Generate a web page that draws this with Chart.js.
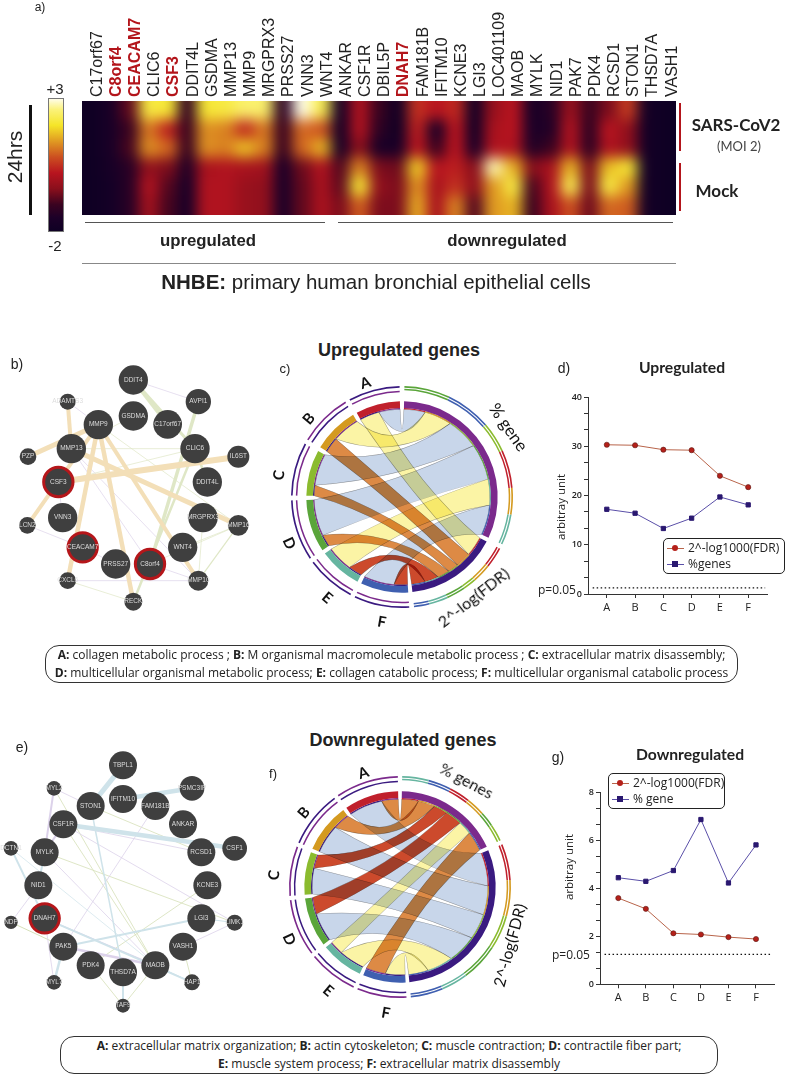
<!DOCTYPE html>
<html>
<head>
<meta charset="utf-8">
<title>NHBE chart</title>
<script src="https://cdn.jsdelivr.net/npm/chart.js@4"></script>
<style>
body { margin: 0; background: #fff; }
#page { position: relative; width: 789px; height: 1078px; overflow: hidden; font-family: "Liberation Sans", sans-serif; color: #222; }
#page canvas { position: absolute; }
.t { position: absolute; white-space: nowrap; transform-origin: center; }
.rule { position: absolute; }
.caption { position: absolute; box-sizing: border-box; border: 1px solid #333; border-radius: 14px; font-family: "Open Sans", sans-serif; font-size: 12px; line-height: 18px; text-align: center; color: #222; white-space: nowrap; }
.legend { position: absolute; box-sizing: border-box; border: 1px solid #222; border-radius: 5px; background: #fff; font-family: "Open Sans", sans-serif; font-size: 12px; color: #222; }
.legend div { position: absolute; left: 24px; white-space: nowrap; line-height: 16px; }
.legend i { position: absolute; left: -21px; top: 8px; width: 17px; height: 1px; }
.legend b { position: absolute; left: -16px; top: 5px; width: 6px; height: 6px; }
</style>
</head>
<body>
<div id="page"></div>
<script>
// panel a
const genes = ["C17orf67", "C8orf4", "CEACAM7", "CLIC6", "CSF3", "DDIT4L", "GSDMA", "MMP13", "MMP9", "MRGPRX3", "PRSS27", "VNN3", "WNT4", "ANKAR", "CSF1R", "DBIL5P", "DNAH7", "FAM181B", "IFITM10", "KCNE3", "LGI3", "LOC401109", "MAOB", "MYLK", "NID1", "PAK7", "PDK4", "RCSD1", "STON1", "THSD7A", "VASH1"];
const redGenes = ["C8orf4", "CEACAM7", "CSF3", "DNAH7"];
const heatRow1 = [-2, -1.6, -0.7, 2.2, 2.1, -1.1, 2.1, 2.2, 2.5, 2.5, -1.2, 3, 2.3, -1.6, 0.1, -1, -1.9, 0.5, 0.2, 0.4, -1.8, -0.2, 0.2, -1.6, -1.3, -0.2, -1, -0.5, 0.6, -1.8, -2];
const heatRow2 = [-2, -1.6, -1, 1.1, 0.3, -1, 1.3, 1.2, 0.4, 1.1, -1, 1, 0.8, -1.7, 0.1, -1.2, -1.9, 0.3, -1.6, 0.2, -1.8, 0, 0.2, -1.5, -1.4, 0.1, -1.2, 0.2, -0.3, -1.8, -2];
const heatRow3 = [-2, -1.6, -0.9, 1.3, 1, -1, 1.3, 1.2, 1.7, 1.2, -1, 1, 1.6, -1.6, -0.4, -1.6, -1.6, 0.2, -1, 0.2, -1.5, 0.1, 0.1, -1.4, -1, 0.1, -1.2, 0.1, -0.3, -1.8, -2];
const heatRow4 = [-2, -1.7, -1.3, -0.3, -0.5, -1.4, 0, 0.1, 0, -0.1, -1.5, -0.6, 0.1, -0.8, 1.2, -0.5, -0.6, 1.8, 0.2, 0.3, -0.4, 2.8, 1.6, -0.4, 0, 1.6, -0.5, 1.7, 2.1, -1.8, -2];
const heatRow5 = [-2, -1.8, -1.3, 0.1, -0.8, -1.6, 0.1, 0.1, -0.2, -0.3, -1.5, -0.7, 0, -0.7, 2.1, -0.3, -0.5, 1.3, 0, 0.5, -0.3, 1.4, 2.2, -0.9, 0.1, 2.3, -0.5, 2.2, 1.4, -1.8, -2];
const heatRow6 = [-2, -1.8, -1.3, -0.1, -0.9, -1.6, 0.1, 0.1, -0.2, -0.3, -1.5, -0.7, 0, -0.5, 0.9, -0.5, -0.5, 1.5, 0, 1.2, -0.8, 1.4, 1.6, -1, 0, 0.8, -0.6, 1, 0.9, -1.8, -2];
const heatStops = [[-2, "#0f0024"], [-1.5, "#1c0028"], [-1, "#3a0320"], [-0.4, "#8a0f1c"], [0.2, "#b8141f"], [0.8, "#cc4f20"], [1.4, "#e09a22"], [2, "#f5e528"], [2.6, "#fbf27a"], [3, "#fffde8"]];

// panels c and f
const terms = ["A", "B", "C", "D", "E", "F"];
const upGeneWidth = [14, 18, 21, 24, 17, 20];
const upFdrWidth = [13, 10, 7, 8, 9, 9];
const upGeneHeat = ["blue", "yellow", "blue", "blue", "yellow", "blue"];
const upFdrHeat = ["yellow", "orange", "orange", "orange", "red", "red"];
const upGeneRing = [24, 24, 16, 20, 14, 16];
const upFdrRing = [11, 10, 7, 10, 10, 8];
const downGeneWidth = [11, 11, 9, 11, 9, 13];
const downFdrWidth = [22, 19, 17, 19, 17, 13];
const downGeneHeat = ["orange", "orange", "red", "red", "yellow", "orange"];
const downFdrHeat = ["blue", "blue", "blue", "blue", "yellow", "yellow"];
const downGeneRing = [14, 12, 11, 10, 8, 9];
const downFdrRing = [19, 19, 18, 20, 14, 17];

// panels d and g
const upFdr = [30.3, 30.2, 29.3, 29.2, 24.0, 21.7];
const upGenes = [17.2, 16.4, 13.3, 15.4, 19.7, 18.1];
const downFdr = [3.6, 3.15, 2.13, 2.08, 1.97, 1.89];
const downGenes = [4.45, 4.3, 4.75, 6.88, 4.23, 5.82];

// panel b, read in crop units (810 wide, 900 high)
const bNames = ["DDIT4", "AVPI1", "ADAMTS3", "GSDMA", "C17orf67", "MMP9", "CLIC6", "MMP13", "PZP", "IL6ST", "CSF3", "DDIT4L", "VNN3", "MRGPRX3", "MMP16", "LCN2", "CEACAM7", "WNT4", "PRSS27", "C8orf4", "CXCL6", "MMP10", "RECK"];
const bX = [400, 595, 203, 400, 503, 295, 585, 214, 84, 715, 175, 622, 188, 609, 715, 82, 248, 548, 347, 450, 203, 595, 400];
const bY = [150, 215, 215, 258, 283, 284, 356, 356, 380, 380, 456, 456, 563, 563, 586, 586, 652, 652, 702, 702, 752, 752, 815];
const bSize = [44, 38, 24, 44, 43, 44, 44, 44, 25, 33, 44, 44, 44, 44, 31, 25, 44, 44, 44, 44, 25, 30, 27];
const bRed = ["CSF3", "CEACAM7", "C8orf4"];
const bOrange = [["ADAMTS3", "MMP13", 4], ["PZP", "MMP9", 5], ["MMP9", "CXCL6", 4.5], ["MMP9", "LCN2", 4], ["CSF3", "IL6ST", 6], ["MMP13", "MMP16", 5], ["MMP9", "RECK", 4.5], ["MMP9", "MMP10", 4]];
const bGreen = [["C17orf67", "DDIT4", 4], ["DDIT4", "CLIC6", 3], ["CLIC6", "DDIT4L", 2.5], ["AVPI1", "C8orf4", 3.5], ["CLIC6", "RECK", 2.5], ["MMP13", "CLIC6", 0.7], ["CSF3", "CLIC6", 0.7], ["MMP16", "WNT4", 0.7], ["MMP16", "MMP10", 1.2], ["C8orf4", "MMP16", 0.7], ["CXCL6", "RECK", 0.7], ["MRGPRX3", "MMP10", 0.7], ["MMP9", "MMP16", 0.7], ["GSDMA", "MMP13", 0.7]];
const bPurple = [["CXCL6", "MMP10", 0.7], ["LCN2", "CEACAM7", 0.7], ["LCN2", "CSF3", 0.7], ["DDIT4", "AVPI1", 0.7], ["ADAMTS3", "MMP9", 0.7], ["CEACAM7", "PRSS27", 0.7], ["MMP13", "C8orf4", 0.7], ["C8orf4", "MMP10", 0.7], ["MMP13", "MMP10", 0.7], ["CSF3", "VNN3", 0.7]];

// panel e, read in crop units
const eNames = ["TBPL1", "PSMC3IP", "MYL2", "IFITM10", "STON1", "FAM181B", "CSF1R", "ANKAR", "CSF1", "DCTN1", "MYLK", "RCSD1", "NID1", "KCNE3", "DNAH7", "LGI3", "NDP", "LIMK1", "PAK5", "VASH1", "PDK4", "MAOB", "THSD7A", "MYL7", "HAP1", "TAF9"];
const eX = [369, 576, 162, 369, 272, 466, 190, 549, 704, 33, 134, 604, 115, 622, 134, 604, 33, 704, 190, 549, 272, 466, 369, 162, 576, 369];
const eY = [136, 205, 205, 237, 258, 258, 313, 313, 385, 385, 397, 397, 496, 496, 595, 595, 607, 608, 680, 680, 736, 736, 757, 787, 787, 857];
const eSize = [42, 37, 22, 42, 42, 42, 42, 42, 37, 22, 42, 42, 42, 42, 44, 42, 20, 24, 42, 42, 42, 42, 42, 22, 24, 21];
const eRed = ["DNAH7"];
const eBlue = [["STON1", "TBPL1", 5], ["IFITM10", "PSMC3IP", 4.5], ["CSF1R", "CSF1", 4.5], ["DCTN1", "DNAH7", 2], ["NID1", "MYLK", 2], ["PAK5", "MYL7", 2.5], ["STON1", "THSD7A", 1.5], ["THSD7A", "TAF9", 2], ["DNAH7", "HAP1", 2], ["PAK5", "LGI3", 2], ["LGI3", "LIMK1", 1], ["MAOB", "HAP1", 1], ["DCTN1", "MAOB", 0.7]];
const ePurple = [["MYL2", "MYLK", 2], ["CSF1R", "MYLK", 2], ["PAK5", "MAOB", 2.5], ["DNAH7", "MAOB", 1.5], ["CSF1R", "RCSD1", 0.8], ["FAM181B", "PAK5", 0.8], ["CSF1R", "LIMK1", 0.8], ["VASH1", "LIMK1", 0.8], ["MYL7", "DNAH7", 0.8], ["NDP", "NID1", 0.8], ["MYLK", "MAOB", 0.8], ["MYL2", "STON1", 0.8]];
const eGreen = [["STON1", "RCSD1", 0.8], ["MYL2", "MAOB", 0.8], ["MYLK", "LIMK1", 0.8], ["KCNE3", "PDK4", 0.8], ["VASH1", "HAP1", 0.8], ["MAOB", "TAF9", 0.8], ["PDK4", "TAF9", 0.8], ["NDP", "PAK5", 1], ["CSF1R", "MAOB", 0.8]];

const page = document.querySelector("#page");

function addCanvas(x, y, w, h) {
    const c = document.createElement("canvas");
    c.width = w;
    c.height = h;
    c.style.left = x + "px";
    c.style.top = y + "px";
    c.style.width = w + "px";
    c.style.height = h + "px";
    page.appendChild(c);
    return c;
}

function addText(text, x, y, css, rotate) {
    const el = document.createElement("div");
    el.className = "t";
    el.innerHTML = text;
    el.style.cssText = `left:${x}px;top:${y}px;transform:translate(-50%,-50%) rotate(${rotate || 0}deg);${css || ""}`;
    page.appendChild(el);
}

function addRule(x, y, w, h, color) {
    const el = document.createElement("div");
    el.className = "rule";
    el.style.cssText = `left:${x}px;top:${y}px;width:${w}px;height:${h}px;background:${color};`;
    page.appendChild(el);
}

function heatColor(v) {
    for (let i = 1; i < heatStops.length; i++) {
        if (v <= heatStops[i][0]) {
            const [a, ca] = heatStops[i - 1];
            const [b, cb] = heatStops[i];
            const t = (v - a) / (b - a);
            const rgb = [1, 3, 5].map((p) => {
                const x = parseInt(ca.substr(p, 2), 16);
                const y = parseInt(cb.substr(p, 2), 16);
                return Math.round(x + (y - x) * t);
            });
            return `rgb(${rgb.join(",")})`;
        }
    }
    return heatStops[heatStops.length - 1][1];
}

// smooths the drawn cells like the interpolated heatmap in the figure
const blurCells = {
    id: "blurCells",
    afterDatasetsDraw(chart) {
        const a = chart.chartArea;
        const m = 24;
        const w = Math.round(a.right - a.left);
        const h = Math.round(a.bottom - a.top);
        const tmp = document.createElement("canvas");
        tmp.width = w + 2 * m;
        tmp.height = h + 2 * m;
        const t = tmp.getContext("2d");
        t.drawImage(chart.canvas, a.left, a.top, w, h, m, m, w, h);
        t.drawImage(chart.canvas, a.left + 1, a.top, 1, h, 0, m, m, h);
        t.drawImage(chart.canvas, a.right - 2, a.top, 1, h, w + m, m, m, h);
        t.drawImage(tmp, 0, m + 1, w + 2 * m, 1, 0, 0, w + 2 * m, m);
        t.drawImage(tmp, 0, m + h - 2, w + 2 * m, 1, 0, m + h, w + 2 * m, m);
        const ctx = chart.ctx;
        ctx.save();
        ctx.beginPath();
        ctx.rect(a.left, a.top, w, h);
        ctx.clip();
        ctx.filter = "blur(7px)";
        ctx.drawImage(tmp, a.left - m, a.top - m);
        ctx.restore();
    },
};

const heatRows = [heatRow6, heatRow5, heatRow4, heatRow3, heatRow2, heatRow1];
new Chart(addCanvas(0, 0, 789, 240), {
    type: "bar",
    data: {
        labels: genes,
        datasets: heatRows.map((row) => ({
            data: row.map(() => 1),
            backgroundColor: row.map(heatColor),
            barPercentage: 1,
            categoryPercentage: 1,
            borderWidth: 0,
        })),
    },
    options: {
        responsive: false,
        animation: false,
        layout: { padding: { left: 82, right: 113, bottom: 25 } },
        plugins: { legend: { display: false }, tooltip: { enabled: false } },
        scales: {
            x: {
                position: "top",
                stacked: true,
                grid: { display: false, drawTicks: false },
                border: { display: false },
                afterFit: (s) => { s.height = 101; },
                ticks: {
                    autoSkip: false,
                    minRotation: 90,
                    maxRotation: 90,
                    padding: 4,
                    labelOffset: 25,
                    color: (c) => (redGenes.includes(genes[c.index]) ? "#b3151b" : "#222"),
                    font: (c) => ({ family: "Liberation Sans", size: 16, weight: redGenes.includes(genes[c.index]) ? "bold" : "normal" }),
                },
            },
            y: { stacked: true, display: false, min: 0, max: 6 },
        },
    },
    plugins: [blurCells],
});

// colour bar
const bar = document.createElement("div");
bar.className = "rule";
bar.style.cssText = `left:48px;top:98px;width:16px;height:134px;border:1px solid #777;box-sizing:border-box;background:linear-gradient(to top,${heatStops.map((s) => `${s[1]} ${(s[0] + 2) * 20}%`).join(",")});`;
page.appendChild(bar);

addText("a)", 40, 7, "font-size:12px;");
addText("24hrs", 15, 157, "font-size:21px;", -90);
addRule(29, 105, 2.5, 110, "#111");
addText("+3", 55, 88, "font-size:15px;");
addText("-2", 55, 245, "font-size:15px;");
addRule(85, 222, 240, 1, "#555");
addRule(338, 222, 335, 1, "#555");
addText("upregulated", 208, 241, "font-size:16.8px;font-weight:bold;");
addText("downregulated", 507, 241, "font-size:16.8px;font-weight:bold;");
addRule(82, 263, 594, 1, "#888");
addText("<b>NHBE:</b> primary human bronchial epithelial cells", 376, 282, "font-size:20.5px;");
addRule(679, 103, 2, 48, "#b3151b");
addRule(679, 163, 2, 48, "#b3151b");
addText("SARS-CoV2", 736, 124, "font-family:Lato;font-weight:bold;font-size:17px;");
addText("(MOI 2)", 739, 146, "font-family:Lato;font-size:13px;color:#444;");
addText("Mock", 717, 190, "font-family:Lato;font-weight:bold;font-size:17px;");

// networks
function drawNetwork(x, y, names, xs, ys, sizes, reds, edgeGroups) {
    const pos = (n) => ({ x: xs[names.indexOf(n)], y: ys[names.indexOf(n)] });
    const edgeSets = [];
    edgeGroups.forEach(([edges, color]) => {
        edges.forEach(([a, b, w]) => {
            edgeSets.push({ data: [pos(a), pos(b)], showLine: true, borderColor: color, borderWidth: w, pointRadius: 0 });
        });
    });
    const nodeLabels = {
        id: "nodeLabels",
        afterDatasetsDraw(chart) {
            const ctx = chart.ctx;
            ctx.save();
            ctx.font = '6.5px "Liberation Sans"';
            ctx.textAlign = "center";
            ctx.textBaseline = "middle";
            ctx.fillStyle = "#ddd";
            names.forEach((n, i) => {
                ctx.fillText(n, chart.scales.x.getPixelForValue(xs[i]), chart.scales.y.getPixelForValue(ys[i]));
            });
            ctx.restore();
        },
    };
    new Chart(addCanvas(x, y, 270, 300), {
        type: "scatter",
        data: {
            datasets: [{
                data: names.map((n, i) => ({ x: xs[i], y: ys[i] })),
                pointRadius: sizes.map((s) => s / 3),
                backgroundColor: "#3f3f3f",
                borderColor: names.map((n) => (reds.includes(n) ? "#b5161a" : "#3f3f3f")),
                borderWidth: names.map((n) => (reds.includes(n) ? 3 : 0)),
            }].concat(edgeSets),
        },
        options: {
            responsive: false,
            animation: false,
            layout: { autoPadding: false },
            plugins: { legend: { display: false }, tooltip: { enabled: false } },
            scales: {
                x: { display: false, min: 0, max: 810 },
                y: { display: false, min: 0, max: 900, reverse: true },
            },
        },
        plugins: [nodeLabels],
    });
}

const edgeOrange = "#f3dfb8";
const edgeGreen = "#dfe7c6";
const edgeGreenThin = "#d5dfb8";
const edgePurple = "#dcd2ea";
const edgeBlue = "#cfe3ea";

drawNetwork(0, 330, bNames, bX, bY, bSize, bRed, [[bOrange, edgeOrange], [bGreen, edgeGreen], [bPurple, edgePurple]]);
drawNetwork(0, 720, eNames, eX, eY, eSize, eRed, [[eBlue, edgeBlue], [ePurple, edgePurple], [eGreen, edgeGreenThin]]);
addText("b)", 17, 364, "font-size:14px;");
addText("e)", 22, 747, "font-size:14px;");

// chord diagrams
const ribbonFill = { blue: "#c8d6ea", yellow: "#fbf4a5", orange: "#dd8a45", red: "#cc4a2c" };
const ribbonLayer = ["blue", "yellow", "orange", "red"];
const termColor = { A: "#c0202c", B: "#d49a20", C: "#8bbb2f", D: "#5aa53a", E: "#66b5a0", F: "#3f5fb0" };
const purple = "#7b2a8c";
const navy = "#3a1a80";

function drawChord(cx, cy, o) {
    const clear = "rgba(0,0,0,0)";
    const termOrder = [5, 4, 3, 2, 1, 0];
    const termSize = (i) => o.gene[i] + o.fdr[i];
    const sum = (a) => a.reduce((s, v) => s + v, 0);
    const geneTotal = sum(o.gene);
    const fdrTotal = sum(o.fdr);
    const g = 360 - geneTotal - fdrTotal - termOrder.reduce((s, i) => s + termSize(i), 0);
    const step = g / 8;

    // each ring: list of [size, colour], gaps included
    const leftPart = (colorOf) => {
        const out = [];
        termOrder.forEach((i) => {
            out.push([termSize(i), colorOf(i)]);
            out.push([step, clear]);
        });
        return out;
    };
    const ring = (parts, weight) => ({
        data: parts.map((p) => p[0]),
        backgroundColor: parts.map((p) => p[1]),
        borderWidth: 0,
        weight: weight,
    });
    const outerRight = (show) => []
        .concat(o.geneRing.map((s, i) => [s, show ? o.geneRingColor[i] : clear]))
        .concat([[step, clear]])
        .concat(o.fdrRing.map((s, i) => [s, show ? o.fdrRingColor[i] : clear]))
        .concat([[step, clear]]);
    const spacer = (w) => ({ data: [1], backgroundColor: clear, borderWidth: 0, weight: w });

    const thinLeft = [];
    termOrder.forEach((i) => {
        thinLeft.push([o.fdr[i], navy], [o.gene[i], purple], [step, clear]);
    });
    const thinRight = []
        .concat(terms.map((t, i) => [o.gene[i], termColor[t]]))
        .concat([[step, clear]])
        .concat(terms.map((t, i) => [o.fdr[i], termColor[t]]))
        .concat([[step, clear]]);

    const thick = [[geneTotal, purple], [step, clear], [fdrTotal, navy], [step, clear]].concat(leftPart((i) => termColor[terms[i]]));

    const line1 = outerRight(true).concat(leftPart((i) => o.outerLine[i]));
    const line2 = outerRight(true).concat(leftPart(() => clear));
    const line3 = outerRight(false).concat(leftPart((i) => o.innerLine[i]));
    const thickIndex = 6;

    const ribbons = {
        id: "ribbons",
        beforeDatasetsDraw(chart) {
            const arcs = chart.getDatasetMeta(thickIndex).data;
            const rad = Math.PI / 180;
            const r = 87.8;
            const list = [];
            let geneAt = arcs[0].startAngle;
            let fdrAt = arcs[2].startAngle;
            terms.forEach((t, i) => {
                const term = arcs[14 - 2 * i];
                const f = o.fdr[i] * rad;
                const s = o.gene[i] * rad;
                list.push({ a: [term.startAngle, term.startAngle + f], b: [fdrAt, fdrAt + f], heat: o.fdrHeat[i] });
                list.push({ a: [term.startAngle + f, term.startAngle + f + s], b: [geneAt, geneAt + s], heat: o.geneHeat[i] });
                geneAt += s;
                fdrAt += f;
            });
            list.sort((p, q) => ribbonLayer.indexOf(p.heat) - ribbonLayer.indexOf(q.heat));
            const ctx = chart.ctx;
            const x = arcs[0].x;
            const y = arcs[0].y;
            const at = (angle) => [x + r * Math.cos(angle), y + r * Math.sin(angle)];
            // curve pulled part of the way from the chord middle to the centre
            const curve = (from, to) => {
                const p = at(from);
                const q = at(to);
                const k = 0.55;
                ctx.quadraticCurveTo(x + ((p[0] + q[0]) / 2 - x) * k, y + ((p[1] + q[1]) / 2 - y) * k, q[0], q[1]);
            };
            ctx.save();
            ctx.globalCompositeOperation = "multiply";
            list.forEach((p) => {
                ctx.beginPath();
                ctx.arc(x, y, r, p.a[0], p.a[1]);
                curve(p.a[1], p.b[0]);
                ctx.arc(x, y, r, p.b[0], p.b[1]);
                curve(p.b[1], p.a[0]);
                ctx.closePath();
                ctx.fillStyle = ribbonFill[p.heat];
                ctx.fill();
                ctx.strokeStyle = "rgba(90,90,90,0.6)";
                ctx.lineWidth = 0.5;
                ctx.stroke();
            });
            ctx.restore();
        },
    };

    new Chart(addCanvas(cx - 125, cy - 125, 250, 250), {
        type: "doughnut",
        data: {
            datasets: [
                ring(line1, 1.6),
                spacer(1.1),
                ring(line2, 1.5),
                spacer(0.5),
                ring(line3, 1.5),
                spacer(8.8),
                ring(thick, 6.5),
                ring(thinRight.concat(thinLeft), 1.2),
            ],
        },
        options: {
            responsive: false,
            animation: false,
            rotation: step / 2,
            radius: 111,
            cutout: (87.8 / 111 * 100) + "%",
            plugins: { legend: { display: false }, tooltip: { enabled: false } },
        },
        plugins: [ribbons],
    });
}

drawChord(402, 497, {
    gene: upGeneWidth, fdr: upFdrWidth, geneHeat: upGeneHeat, fdrHeat: upFdrHeat,
    geneRing: upGeneRing, fdrRing: upFdrRing,
    geneRingColor: ["#5aa53a", "#3f5fb0", "#8bbb2f", "#c0202c", "#d49a20", "#66b5a0"],
    fdrRingColor: ["#c0202c", "#d49a20", "#8bbb2f", "#5aa53a", "#66b5a0", "#3f5fb0"],
    outerLine: [navy, purple, navy, navy, navy, navy],
    innerLine: [purple, navy, purple, purple, purple, purple],
});
drawChord(400, 887, {
    gene: downGeneWidth, fdr: downFdrWidth, geneHeat: downGeneHeat, fdrHeat: downFdrHeat,
    geneRing: downGeneRing, fdrRing: downFdrRing,
    geneRingColor: ["#66b5a0", "#3f5fb0", "#c0202c", "#d49a20", "#5aa53a", "#8bbb2f"],
    fdrRingColor: ["#c0202c", "#d49a20", "#8bbb2f", "#5aa53a", "#66b5a0", "#3f5fb0"],
    outerLine: [purple, navy, purple, purple, purple, purple],
    innerLine: [navy, purple, navy, navy, navy, navy],
});

const chordFont = "font-family:Lato;font-weight:bold;font-size:15px;color:#111;";
const chordNote = "font-family:Lato;font-size:16px;color:#111;";
addText("Upregulated genes", 399, 350, "font-size:18px;font-weight:bold;");
addText("c)", 285, 368, "font-size:13px;");
addText("A", 365, 382, chordFont, -18);
addText("B", 308, 418, chordFont, -50);
addText("C", 278, 475, chordFont, -80);
addText("D", 290, 543, chordFont, 65);
addText("E", 328, 597, chordFont, 40);
addText("F", 382, 621, chordFont, 10);
addText("% gene", 509, 427, chordNote + "font-size:17px;", 55);
addText("2^-log(FDR)", 473, 597, chordNote, -38);

addText("Downregulated genes", 403, 740, "font-size:18px;font-weight:bold;");
addText("f)", 273, 773, "font-size:13px;");
addText("A", 363, 772, chordFont, -18);
addText("B", 303, 812, chordFont, -50);
addText("C", 273, 875, chordFont, -80);
addText("D", 290, 939, chordFont, 65);
addText("E", 329, 990, chordFont, 40);
addText("F", 386, 1012, chordFont, 10);
addText("% genes", 467, 780, chordNote, 28);
addText("2^-log(FDR)", 509, 945, chordNote, -75);

// line panels
function drawLines(x, y, w, h, pad, yMax, yMajor, fdr, gene, pLine) {
    const minor = [];
    for (let i = 0; i <= yMax / yMajor * 3; i++) minor.push(i * yMajor / 3);
    const point = (v, i) => ({ x: i, y: v });
    new Chart(addCanvas(x, y, w, h), {
        type: "line",
        data: {
            datasets: [
                { data: fdr.map(point), borderColor: "#b8644a", borderWidth: 1, backgroundColor: "#b5201a", pointBorderColor: "#5a1a14", pointBorderWidth: 0.6, pointRadius: 2.6 },
                { data: gene.map(point), borderColor: "#5a4fa8", borderWidth: 1, backgroundColor: "#2a1870", pointStyle: "rect", pointBorderColor: "#2a1870", pointRadius: 3 },
                { data: [{ x: -0.5, y: pLine }, { x: 5.6, y: pLine }], borderColor: "#111", borderWidth: 1.4, borderDash: [1.5, 2.5], pointRadius: 0 },
            ],
        },
        options: {
            responsive: false,
            animation: false,
            layout: { autoPadding: false, padding: { top: pad.top, right: pad.right } },
            plugins: { legend: { display: false }, tooltip: { enabled: false } },
            scales: {
                x: {
                    type: "linear",
                    min: -0.665,
                    max: 5.665,
                    afterBuildTicks: (s) => { s.ticks = terms.map((t, i) => ({ value: i })); },
                    afterFit: (s) => { s.height = pad.bottom; },
                    grid: { drawOnChartArea: false, tickLength: 4, color: "#333" },
                    border: { color: "#333" },
                    ticks: { callback: (v) => terms[v], color: "#222", font: { family: "Open Sans", size: 11 }, maxRotation: 0 },
                },
                y: {
                    min: 0,
                    max: yMax,
                    afterBuildTicks: (s) => { s.ticks = minor.map((v) => ({ value: v })); },
                    afterFit: (s) => { s.width = pad.left; },
                    grid: { drawOnChartArea: false, tickLength: 4, color: "#333" },
                    border: { color: "#333" },
                    ticks: {
                        callback: (v) => (Math.abs(v / yMajor - Math.round(v / yMajor)) < 0.01 ? Math.round(v) : ""),
                        autoSkip: false,
                        color: "#222",
                        padding: 2,
                        font: { family: "Open Sans", size: 9, weight: "600" },
                    },
                },
            },
        },
    });
}

function addLegend(x, y, w, h, rows) {
    const box = document.createElement("div");
    box.className = "legend";
    box.style.cssText = `left:${x}px;top:${y}px;width:${w}px;height:${h}px;`;
    rows.forEach(([text, lineColor, markColor, round, top]) => {
        box.innerHTML += `<div style="top:${top}px">${text}<i style="background:${lineColor}"></i><b style="background:${markColor};border-radius:${round ? "50%" : "0"}"></b></div>`;
    });
    page.appendChild(box);
}

drawLines(530, 380, 259, 240, { left: 58, right: 22, top: 17, bottom: 26 }, 40, 10, upFdr, upGenes, 1.25);
addText("d)", 564, 368, "font-size:14px;");
addText("Upregulated", 682, 367, "font-family:Lato;font-weight:bold;font-size:15.7px;");
addText("arbitray unit", 560, 507, "font-family:'Open Sans';font-size:11.5px;", -90);
addText("p=0.05", 557, 589, "font-family:'Open Sans';font-size:12px;");
addLegend(663, 538, 122, 36, [["2^-log1000(FDR)", "#b8644a", "#b5201a", true, 1], ["%genes", "#5a4fa8", "#2a1870", false, 17]]);

drawLines(540, 770, 249, 250, { left: 60, right: 14.7, top: 22.7, bottom: 35.7 }, 8, 2, downFdr, downGenes, 1.25);
addText("g)", 558, 757, "font-size:14px;");
addText("Downregulated", 690, 754, "font-family:Lato;font-weight:bold;font-size:15.7px;");
addText("arbitray unit", 568, 867, "font-family:'Open Sans';font-size:11.5px;", -90);
addText("p=0.05", 571, 954, "font-family:'Open Sans';font-size:12px;");
addLegend(608, 773, 117, 36, [["2^-log1000(FDR)", "#b8644a", "#b5201a", true, 1], ["% gene", "#5a4fa8", "#2a1870", false, 17]]);

function addCaption(x, y, w, h, html) {
    const el = document.createElement("div");
    el.className = "caption";
    el.style.cssText = `left:${x}px;top:${y}px;width:${w}px;height:${h}px;`;
    el.innerHTML = html;
    page.appendChild(el);
}
addCaption(45, 645, 693, 38, "<b>A:</b> collagen metabolic process ; <b>B:</b> M organismal macromolecule metabolic process ; <b>C:</b> extracellular matrix disassembly;<br><b>D:</b> multicellular organismal metabolic process; <b>E:</b> collagen catabolic process; <b>F:</b> multicellular organismal catabolic process");
addCaption(60, 1036, 658, 38, "<b>A:</b> extracellular matrix organization; <b>B:</b> actin cytoskeleton; <b>C:</b> muscle contraction; <b>D:</b> contractile fiber part;<br><b>E:</b> muscle system process; <b>F:</b> extracellular matrix disassembly");
</script>
</body>
</html>
